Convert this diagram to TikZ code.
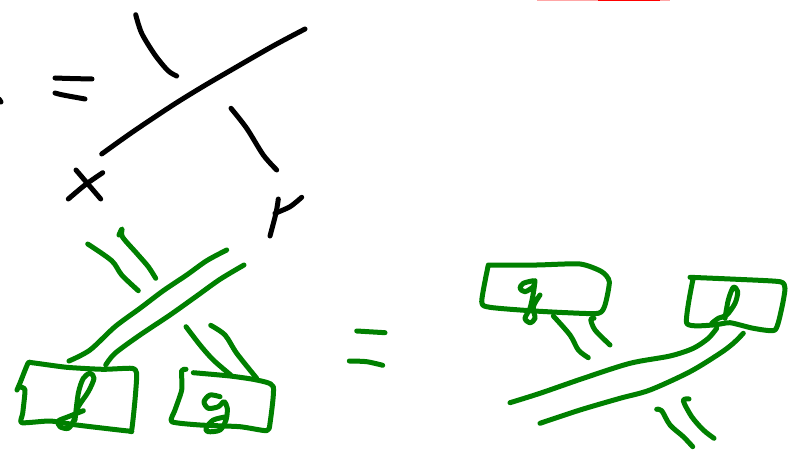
\documentclass[tikz,border=0pt]{standalone}
\usepackage{xcolor}
\usepackage{tikz}
\definecolor{penblack}{RGB}{0,0,0}
\definecolor{pengreen}{RGB}{0,128,0}
\definecolor{penred}{RGB}{255,0,0}

\begin{document}
\begin{tikzpicture}[
  x=1pt,
  y=-1pt,
  % Pen styles
  pen/.style={
    line width=#1,
    line cap=round,
    line join=round
  },
  blackpen/.style={pen=5pt, draw=penblack},
  greenpen/.style={pen=5pt, draw=pengreen},
  redpen/.style={line width=2.4pt, draw=penred}
]
\useasboundingbox (0,0) rectangle (799,454);

% === BLACK CROSSING ===
\draw[blackpen] plot[smooth] coordinates {(-1,99) (1,102)};
\draw[blackpen] plot[smooth] coordinates {(55,78) (70,78.5) (92,79)};
\draw[blackpen] plot[smooth] coordinates {(55,93) (63,95) (85,99)};
\draw[blackpen] plot[smooth] coordinates {(135.7,14.7) (141.7,33.3) (155,55) (168,70.7) (176.7,76)};
\draw[blackpen] plot[smooth] coordinates {(101.7,154) (133,131.7) (173,105) (203,86.5) (233,69) (273,46) (305,29)};
\draw[blackpen] plot[smooth] coordinates {(231,108.3) (246.7,128.3) (263.3,155) (276.7,170)};
% x and y
\draw[blackpen] (76,170) -- (100.7,199);
\draw[blackpen] plot[smooth] coordinates {(102.7,172.7) (85,185) (68.3,199)};
\draw[blackpen] plot[smooth] coordinates {(278.3,199) (276,213) (270,236)};
\draw[blackpen] plot[smooth] coordinates {(301.7,197.3) (290,206.7) (275,213.3)};

% === LEFT GREEN CROSSING ===
\draw[greenpen] plot[smooth] coordinates {(87.7,244) (111.7,260.7) (121.7,275) (138.3,290.7)};
\draw[greenpen] plot[smooth] coordinates {(119,235) (122,229) (122.5,237) (136.7,253.3) (148.3,266.7) (155.7,278.3)};
\draw[greenpen] plot[smooth] coordinates {(226.7,250) (206.7,260.7) (186.7,275) (163.3,290.7) (140,308.3) (115,326.7) (90,350) (69,361)};
\draw[greenpen] plot[smooth] coordinates {(244,265) (220,279.3) (196.7,296) (170,315) (140,335) (115,353.3) (105.7,365)};
\draw[greenpen] plot[smooth] coordinates {(186,326.7) (200,345) (213.3,360) (230.7,375)};
\draw[greenpen] plot[smooth] coordinates {(210.7,325.3) (225,335) (236.7,353.3) (256.7,378.3)};

% box f
\draw[greenpen] plot[smooth, tension=0.35] coordinates {(17,390) (20,383) (28,363.3) (32,362.7) (66.7,367.3) (103,369.3) (131.7,368.3) (136.7,373.3) (135,400) (131.7,430) (128.3,431) (76.7,425) (50,421) (21.7,422.7) (22.7,413.3) (25,390) (20,387)};
\draw[greenpen] plot[smooth] coordinates {(75,420) (78.3,393.3) (83.3,378.3) (90,373.3) (94,378.3) (88.3,391.7) (78.3,406.7) (74,420) (68.3,428.3) (60,426.7) (58.3,421) (68.3,416.7) (83.3,410.7)};

% box g
\draw[greenpen] plot[smooth, tension=0.35] coordinates {(186,369.3) (181.7,370.7) (181.7,390) (175,410) (171.7,421.7) (200,425) (240,426.7) (266.7,430.7) (270,423.3) (273.3,386.7) (256.7,380) (230,376) (193.3,372.7)};
\draw[greenpen] plot[smooth] coordinates {(220,396.7) (210,395) (204,401.7) (208.3,408.3) (218.3,406.7) (224,401.7) (227.3,408.3) (226,420) (220,430) (208.3,431.7) (206,428.3) (213.3,420) (226.7,416.7)};

% equals
\draw[greenpen] plot[smooth] coordinates {(356.7,331) (385,332.7)};
\draw[greenpen] plot[smooth] coordinates {(349.3,361) (366.7,361.7) (382.7,365.3)};

% === RIGHT GREEN CROSSING ===
\draw[greenpen] plot[smooth, tension=0.4] coordinates {(488.3,265) (481.7,301.7) (490,307.3) (530,310.7) (566.7,312.7) (598.3,313.3) (605,305) (609.3,281.7) (601.7,271.7) (580,264) (536.7,265) (488.3,265)};
\draw[greenpen] plot[smooth] coordinates {(533.3,280.7) (523.3,283.3) (520,288.3) (525,291.7) (533.3,286.7) (535,280.7) (533.3,293.3) (530,308.3) (525,318.3) (530,322.7) (535,318.3) (533.3,306.7) (540,295)};
\draw[greenpen] plot[smooth] coordinates {(553.3,316) (570,335) (578.3,350) (588.3,357.7)};
\draw[greenpen] plot[smooth] coordinates {(594,318.3) (590.7,319.3) (595,330) (610,345)};

% box f
\draw[greenpen] plot[smooth, tension=0.35] coordinates {(690,277.3) (736.7,279.3) (780,281.7) (785,288.3) (781.7,308.3) (775,330) (753.3,328.3) (730,322.7) (713.3,325) (686.7,323.3) (693,279)};
\draw[greenpen] plot[smooth] coordinates {(725,318.3) (728.3,300) (733.3,287.3) (737.7,291.7) (735,303.3) (726.7,315) (718.3,318.3) (711.7,323.3)};

\draw[greenpen] plot[smooth] coordinates {(510,402.7) (540,393.3) (583.3,378.3) (630,363.3) (670,356) (693.3,348.3) (708.3,338.3) (716.7,328.3)};
\draw[greenpen] plot[smooth] coordinates {(540,423.3) (580,410) (620,398.3) (650,390) (690,371.7) (720,353.3) (733.3,343.3) (743.3,333.3)};
\draw[greenpen] plot[smooth] coordinates {(656.7,409.3) (661.7,410.7) (670,425) (683.3,436.7) (692.7,446.7)};
\draw[greenpen] plot[smooth] coordinates {(689,399) (683.3,400.7) (691.7,416.7) (703.3,430) (714,438.3)};

% === RED MARK ===
\draw[redpen, draw opacity=0.35] (537,0) -- (670,0);
\draw[redpen] (598,0) -- (660,0);
\end{tikzpicture}
\end{document}
